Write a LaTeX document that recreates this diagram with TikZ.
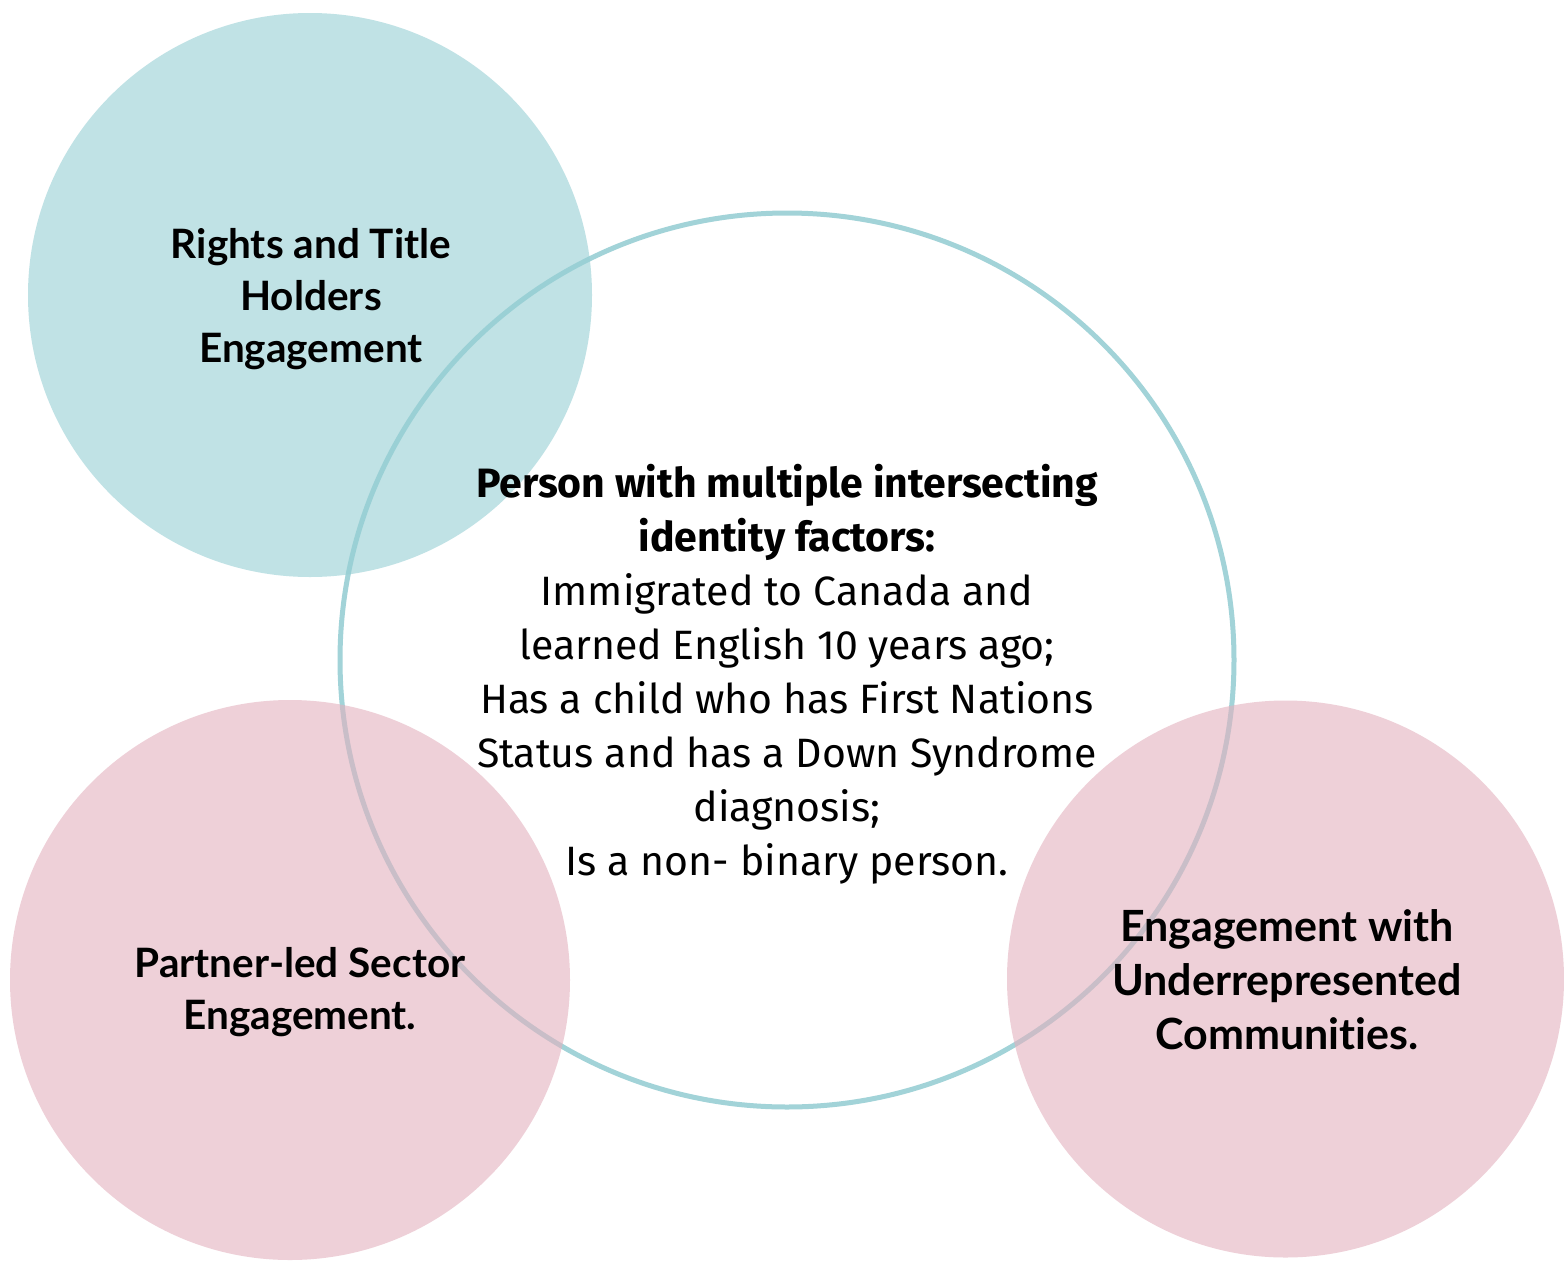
\documentclass[tikz,border=0pt]{standalone}
\usepackage{fontspec}
\setmainfont{Fira Sans}
\newfontfamily\labelfont[Ligatures={NoCommon}]{Lato}
\definecolor{tealfill}{RGB}{150,207,212}
\definecolor{tealline}{RGB}{162,211,216}
\definecolor{pinkfill}{RGB}{228,177,190}
\tikzset{
  bubble/.style={circle, inner sep=0pt, fill opacity=0.6, text opacity=1},
  lbl/.style={align=center, font=\labelfont\bfseries\fontsize{40.5}{52}\selectfont, text=black},
  bodytext/.style={align=center, font=\fontsize{41}{54}\selectfont, text=black}
}
\begin{document}
\begin{tikzpicture}[x=1pt,y=-1pt]
\useasboundingbox (0,0) rectangle (1564,1261);
\fill[white] (0,0) rectangle (1564,1261);
% central outline circle
\node[circle, draw=tealline, line width=5pt, minimum size=894pt, inner sep=0pt] (person) at (787,660) {};
% teal circle
\node[bubble, fill=tealfill, minimum size=564pt] (rights) at (310,295) {};
% pink circles
\node[bubble, fill=pinkfill, minimum size=560pt] (partner) at (290,980) {};
\node[bubble, fill=pinkfill, minimum size=557pt] (under) at (1285.5,979) {};
% labels
\node[lbl] (rightsT) at (311,299) {Rights and Title\\Holders\\Engagement};
\node[lbl] (partnerT) at (300,992) {Partner-led Sector\\Engagement.};
\node[lbl, font=\labelfont\bfseries\fontsize{43}{54}\selectfont] (underT) at (1287,980) {Engagement with\\Underrepresented\\Communities.};
\node[bodytext] (personT) at (787,674) {{\bfseries Person with multiple intersecting}\\{\bfseries identity factors:}\\Immigrated to Canada and\\learned English 10 years ago;\\Has a child who has First Nations\\Status and has a Down Syndrome\\diagnosis;\\Is a non- binary person.};
\end{tikzpicture}
\end{document}
